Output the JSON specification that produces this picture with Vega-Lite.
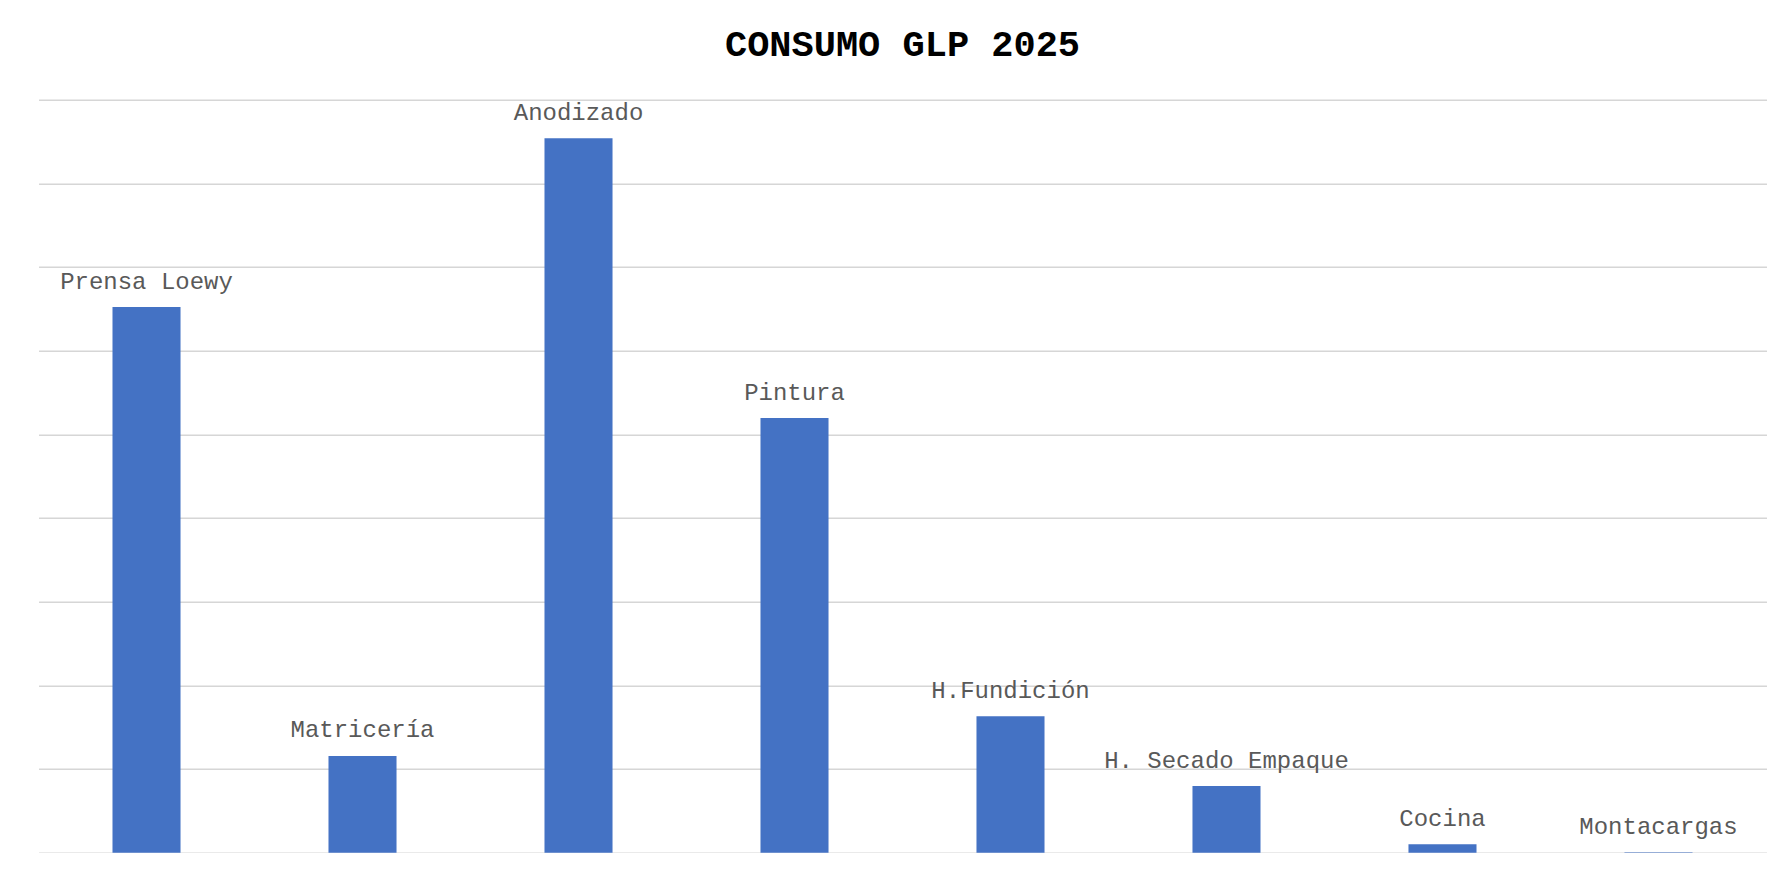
{
  "$schema": "https://vega.github.io/schema/vega-lite/v6.json",
  "autosize": {"type": "none"},
  "padding": {"left": 38.5, "top": 99.7, "right": 0, "bottom": 0},
  "width": 1728,
  "height": 753,
  "background": "white",
  "title": {
    "text": "CONSUMO GLP 2025",
    "font": "Liberation Mono",
    "fontSize": 37,
    "fontWeight": "bold",
    "color": "#000000",
    "anchor": "middle",
    "baseline": "middle",
    "offset": 17.5
  },
  "data": {
    "values": [
      {"area": "Prensa Loewy", "consumo": 32610},
      {"area": "Matricería", "consumo": 5780},
      {"area": "Anodizado", "consumo": 42690},
      {"area": "Pintura", "consumo": 25975},
      {"area": "H.Fundición", "consumo": 8150},
      {"area": "H. Secado Empaque", "consumo": 3985},
      {"area": "Cocina", "consumo": 500},
      {"area": "Montacargas", "consumo": 25}
    ]
  },
  "encoding": {
    "x": {
      "field": "area",
      "type": "nominal",
      "sort": null,
      "scale": {"paddingInner": 0.685, "paddingOuter": 0.3425},
      "axis": null
    },
    "y": {
      "field": "consumo",
      "type": "quantitative",
      "scale": {"domain": [0, 45000], "nice": false, "zero": true},
      "axis": {
        "values": [0, 5000, 10000, 15000, 20000, 25000, 30000, 35000, 40000, 45000],
        "grid": true,
        "gridColor": "#d6d6d6",
        "gridWidth": 1.4,
        "domain": false,
        "ticks": false,
        "labels": false,
        "title": null
      }
    }
  },
  "layer": [
    {"mark": {"type": "bar", "color": "#4472C4"}},
    {
      "mark": {
        "type": "text",
        "font": "Liberation Mono",
        "fontSize": 24,
        "color": "#595959",
        "baseline": "alphabetic",
        "align": "center",
        "dy": -18.5
      },
      "encoding": {"text": {"field": "area", "type": "nominal"}}
    }
  ],
  "config": {"view": {"stroke": null}}
}
